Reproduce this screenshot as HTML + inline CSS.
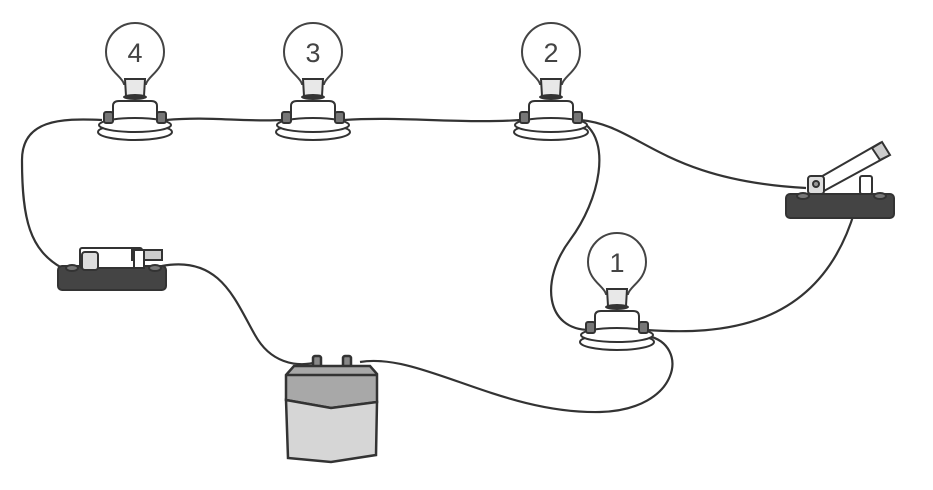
<!DOCTYPE html>
<html><head><meta charset="utf-8"><style>html,body{margin:0;padding:0;background:#fff}svg{display:block}</style></head>
<body>
<svg width="933" height="490" viewBox="0 0 933 490" xmlns="http://www.w3.org/2000/svg">
<defs>
<g id="bulb">
  <path d="M -11,60 C -13,52 -29,46 -29,28 A 29 29 0 1 1 29,28 C 29,46 13,52 11,60 Z" fill="#fff" stroke="#444" stroke-width="2"/>
  <path d="M -10,55 L 10,55 L 9,72 L -9,72 Z" fill="#e8e8e8" stroke="#333" stroke-width="2"/>
  <ellipse cx="0" cy="73" rx="12" ry="3" fill="#333"/>
  <path d="M -22,96 L -22,82 Q -22,77 -16,77 L 16,77 Q 22,77 22,82 L 22,96 Z" fill="#fff" stroke="#333" stroke-width="2"/>
  <ellipse cx="0" cy="108" rx="37" ry="8" fill="#fff" stroke="#333" stroke-width="2"/>
  <ellipse cx="0" cy="101" rx="36" ry="7" fill="#fff" stroke="#333" stroke-width="2"/>
  <rect x="-31" y="88" width="9" height="11" rx="2" fill="#777" stroke="#333" stroke-width="2"/>
  <rect x="22" y="88" width="9" height="11" rx="2" fill="#777" stroke="#333" stroke-width="2"/>
</g>
</defs>
<g fill="none" stroke="#333" stroke-width="2.2">
  <path d="M 102,120 C 60,118 22,120 22,160 C 22,220 30,250 62,268"/>
  <path d="M 166,120 C 210,116 240,122 283,120"/>
  <path d="M 344,120 C 400,116 460,124 521,120"/>
  <path d="M 580,120 C 640,125 660,180 806,188"/>
  <path d="M 582,122 C 612,140 600,200 570,240 C 540,280 545,330 590,330"/>
  <path d="M 646,330 C 720,335 820,330 855,210"/>
  <path d="M 648,336 C 690,345 680,410 600,412 C 500,414 420,352 360,362"/>
  <path d="M 162,266 C 220,255 235,300 255,335 C 270,362 295,368 318,362"/>
</g>
<use href="#bulb" x="135" y="24"/>
<use href="#bulb" x="313" y="24"/>
<use href="#bulb" x="551" y="24"/>
<use href="#bulb" x="617" y="234"/>
<g font-family="Liberation Sans, sans-serif" font-size="27" fill="#444" text-anchor="middle">
  <text x="135" y="62">4</text><text x="313" y="62">3</text><text x="551" y="62">2</text><text x="617" y="272">1</text>
</g>
<!-- left switch -->
<g stroke="#333" stroke-width="2">
  <rect x="58" y="266" width="108" height="24" rx="4" fill="#444"/>
  <rect x="80" y="248" width="62" height="20" rx="2" fill="#fff"/>
  <rect x="82" y="252" width="16" height="18" rx="3" fill="#ddd"/>
  <rect x="132" y="250" width="30" height="10" fill="#ccc"/>
  <rect x="134" y="250" width="10" height="18" fill="#fff"/>
  <ellipse cx="72" cy="268" rx="6" ry="3" fill="#777"/>
  <ellipse cx="155" cy="268" rx="6" ry="3" fill="#777"/>
</g>
<!-- right switch -->
<g stroke="#333" stroke-width="2">
  <rect x="786" y="194" width="108" height="24" rx="4" fill="#444"/>
  <path d="M 812,182 L 880,143 L 888,156 L 822,192 Z" fill="#fff"/>
  <path d="M 872,148 L 882,142 L 890,155 L 880,160 Z" fill="#ccc"/>
  <rect x="808" y="176" width="16" height="18" rx="3" fill="#ddd"/>
  <circle cx="816" cy="184" r="3" fill="#999"/>
  <rect x="860" y="176" width="12" height="18" rx="2" fill="#fff"/>
  <ellipse cx="803" cy="196" rx="6" ry="3" fill="#777"/>
  <ellipse cx="880" cy="196" rx="6" ry="3" fill="#777"/>
</g>
<!-- battery -->
<g stroke="#333" stroke-width="2.5">
  <rect x="313" y="356" width="8" height="12" rx="2" fill="#888"/>
  <rect x="343" y="356" width="8" height="12" rx="2" fill="#888"/>
  <path d="M 286,375 L 294,366 L 370,366 L 377,374 L 377,402 L 331,408 L 286,400 Z" fill="#a8a8a8"/>
  <path d="M 286,400 L 331,408 L 377,402 L 376,455 L 331,462 L 288,458 Z" fill="#d6d6d6"/>
  <line x1="286" y1="375" x2="377" y2="375"/>
</g>
</svg>
</body></html>
